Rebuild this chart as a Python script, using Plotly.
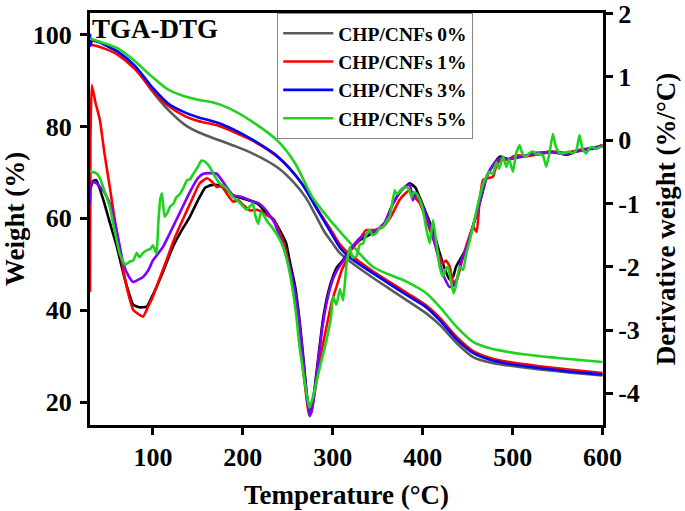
import plotly.graph_objects as go

# ---------------- TGA (left axis, weight %) ----------------
tga0_T = [30, 32, 41, 52, 61, 80, 98, 117, 136, 150, 172, 190, 210, 239, 258, 270, 280, 290, 300, 308, 320, 345, 382, 404, 419, 438, 456, 475, 493, 530, 565, 600]
tga0_w = [99.2, 98.9, 98.4, 97.2, 96.2, 93.1, 88.0, 83.6, 80.3, 78.8, 77.1, 75.8, 74.2, 71.0, 67.5, 64.5, 61.0, 57.3, 54.5, 52.4, 50.5, 47.0, 42.2, 39.3, 36.8, 32.8, 29.8, 28.6, 28.0, 27.1, 26.4, 25.8]

tga1_T = [30, 32, 41, 52, 61, 80, 98, 117, 136, 150, 172, 190, 210, 239, 265, 283, 300, 308, 320, 345, 382, 404, 419, 438, 456, 475, 493, 530, 565, 600]
tga1_w = [98.0, 97.8, 97.3, 96.5, 95.6, 92.5, 88.2, 84.5, 82.2, 81.2, 80.2, 78.8, 77.0, 73.3, 67.8, 62.0, 56.8, 54.3, 52.0, 48.4, 43.8, 41.0, 38.3, 34.1, 31.1, 29.6, 28.8, 27.8, 27.0, 26.3]

tga3_T = [30, 30.5, 32, 41, 52, 61, 80, 98, 117, 136, 150, 172, 190, 210, 239, 265, 283, 300, 308, 320, 345, 382, 404, 419, 438, 456, 475, 493, 530, 565, 600]
tga3_w = [100.2, 97.6, 98.6, 98.3, 97.2, 96.3, 93.2, 88.8, 85.0, 83.0, 82.0, 80.8, 79.3, 77.2, 73.4, 67.7, 61.8, 56.2, 53.6, 51.3, 48.0, 43.3, 40.6, 37.8, 33.6, 30.7, 29.2, 28.4, 27.4, 26.6, 26.0]

tga5_T = [30, 32, 41, 61, 80, 98.5, 117, 136, 150, 165, 183, 210, 239, 258, 277, 297, 308, 320, 345, 382, 404, 419, 438, 456, 475, 512, 550, 600]
tga5_w = [99.2, 99.0, 98.4, 97.0, 94.2, 90.9, 88.0, 86.5, 85.8, 85.3, 84.1, 81.1, 76.8, 72.0, 64.7, 59.6, 57.1, 54.5, 49.4, 46.2, 43.7, 40.7, 36.3, 33.1, 31.7, 30.4, 29.6, 28.7]

# ---------------- DTG (right axis, %/°C) ----------------
dtg0_T = [30, 33, 37, 45, 52, 60, 67, 73, 78, 85, 93, 98, 104, 112, 122, 131, 141, 150, 158, 165, 172, 180, 189, 200, 211, 218, 226, 234, 241, 248, 252, 258, 263, 267, 271, 274.4, 277, 280, 285, 289, 295, 300, 305, 311, 320, 330, 340, 349, 358, 367, 376, 385.6, 392, 398, 404, 412, 419, 425, 430, 434, 437, 443, 449, 455, 460, 466, 471, 478, 485.6, 495, 504, 515, 525, 541, 550, 560, 570, 580, 590, 600]
dtg0_d = [-0.8, -0.65, -0.63, -0.95, -1.3, -1.69, -2.1, -2.4, -2.6, -2.64, -2.63, -2.5, -2.32, -2.05, -1.69, -1.45, -1.21, -0.95, -0.75, -0.71, -0.71, -0.76, -0.87, -0.92, -0.97, -1.02, -1.16, -1.25, -1.42, -1.62, -1.9, -2.3, -2.84, -3.4, -4.0, -4.31, -4.2, -3.9, -3.3, -2.84, -2.4, -2.16, -2.0, -1.9, -1.72, -1.58, -1.5, -1.42, -1.3, -1.0, -0.8, -0.68, -0.75, -0.95, -1.16, -1.45, -1.79, -2.05, -2.2, -2.15, -2.0, -1.85, -1.69, -1.4, -1.16, -0.85, -0.58, -0.4, -0.26, -0.3, -0.26, -0.25, -0.22, -0.18, -0.2, -0.23, -0.18, -0.15, -0.13, -0.08]

dtg1_T = [30, 30.5, 32, 36, 41, 46, 52, 58, 67, 73, 78, 84, 89, 94, 100, 107, 115, 124, 133, 143, 152, 160, 166, 171, 176, 182, 189, 195, 200, 208, 216, 226, 234, 241, 248, 256, 262, 267, 271, 273.6, 276, 282, 288, 293, 299, 304, 310, 315, 319, 328, 337, 346, 356, 365, 374, 380, 385.6, 391, 397, 404, 410, 415, 420, 422, 426, 430, 434, 438, 442, 445, 450, 456, 460, 463, 467, 472, 478, 482, 486, 495, 504, 515, 530, 545, 560, 575, 590, 600]
dtg1_d = [-2.4, 0.0, 0.87, 0.6, 0.32, -0.2, -0.74, -1.3, -2.05, -2.45, -2.68, -2.75, -2.79, -2.65, -2.47, -2.2, -1.9, -1.55, -1.26, -0.95, -0.68, -0.6, -0.66, -0.74, -0.72, -0.84, -0.97, -0.95, -1.02, -1.11, -1.1, -1.18, -1.25, -1.47, -1.75, -2.32, -3.0, -3.63, -4.1, -4.34, -4.3, -3.8, -3.3, -2.95, -2.55, -2.32, -2.05, -1.9, -1.76, -1.6, -1.42, -1.42, -1.37, -1.2, -0.95, -0.85, -0.79, -0.9, -1.0, -1.26, -1.5, -1.69, -1.9, -1.95, -1.9, -2.0, -2.26, -2.2, -2.0, -1.84, -1.6, -1.37, -1.45, -1.0, -0.63, -0.6, -0.58, -0.4, -0.32, -0.3, -0.24, -0.25, -0.22, -0.18, -0.2, -0.15, -0.12, -0.08]

dtg3_T = [30, 32, 37, 45, 52, 60, 67, 73, 78, 84, 89, 95, 100, 111, 126, 141, 150, 156, 164, 171, 180, 189, 200, 208, 218, 226, 235, 245, 252, 258, 263, 267, 271, 274.4, 277, 280, 285, 289, 295, 300, 305, 311, 320, 330, 340, 349, 358, 367, 376, 385.6, 389, 392, 398, 404, 412, 419, 425, 430, 434, 438, 443, 449, 455, 460, 466, 471, 478, 486, 495, 504, 515, 525, 541, 550, 560, 570, 580, 590, 600]
dtg3_d = [-1.0, -0.66, -0.68, -0.8, -1.0, -1.45, -1.95, -2.15, -2.24, -2.2, -2.16, -2.05, -1.9, -1.69, -1.26, -0.82, -0.6, -0.53, -0.52, -0.53, -0.7, -0.87, -0.9, -0.95, -1.0, -1.11, -1.3, -1.69, -2.0, -2.4, -2.9, -3.45, -4.05, -4.36, -4.25, -3.95, -3.35, -2.9, -2.45, -2.2, -2.05, -1.92, -1.72, -1.55, -1.47, -1.42, -1.3, -1.0, -0.78, -0.7, -0.95, -0.85, -0.98, -1.2, -1.55, -1.95, -2.2, -2.32, -2.3, -2.2, -1.9, -1.69, -1.4, -1.16, -0.85, -0.58, -0.4, -0.28, -0.3, -0.28, -0.24, -0.2, -0.19, -0.2, -0.22, -0.18, -0.15, -0.12, -0.1]

dtg5_T = [30, 32, 37, 41, 46, 52, 57, 63, 69, 74, 78, 82, 85, 89, 93, 97, 100, 104, 106, 108, 110, 113, 116, 119, 123, 126, 130, 134, 138, 141, 145, 150, 154, 158, 163, 168, 174, 181, 189, 196, 204, 211, 214, 217, 220, 223, 226, 231, 237, 245, 250, 256, 260, 263, 266, 269, 272, 274, 276, 279, 282, 288, 293, 298, 300.4, 304, 308, 311.5, 315, 318.9, 322, 326.3, 330, 333.7, 337, 341.1, 344, 348.5, 352, 355.9, 359, 363.3, 366, 368.9, 371, 374.4, 378, 381.9, 385, 387.4, 390, 393, 397, 400.4, 404, 407.8, 411.5, 415, 418.9, 422.6, 425, 428.1, 431, 434.4, 437, 441.1, 445, 448.5, 452, 455.9, 460, 463.3, 467, 470.7, 474, 478.1, 482, 485, 489.3, 493, 496, 500.4, 504, 507.8, 511, 515.2, 519, 522.6, 526, 530, 534, 537.4, 541, 544.8, 548, 552.2, 558, 563, 567, 571, 574.4, 578, 581.9, 586, 589.3, 593, 596.7, 600]
dtg5_d = [-0.47, -0.5, -0.52, -0.6, -0.8, -1.05, -1.4, -1.79, -1.97, -1.92, -1.9, -1.78, -1.85, -1.78, -1.74, -1.72, -1.66, -1.79, -1.3, -0.95, -0.84, -1.21, -1.15, -1.05, -1.0, -0.9, -0.85, -0.75, -0.63, -0.62, -0.53, -0.42, -0.32, -0.34, -0.42, -0.55, -0.68, -0.75, -0.9, -0.98, -1.1, -1.0, -1.2, -1.32, -1.15, -1.18, -1.26, -1.35, -1.47, -1.69, -1.95, -2.42, -2.85, -3.26, -3.55, -3.84, -4.1, -4.23, -4.15, -4.0, -3.8, -3.45, -3.16, -2.8, -2.47, -2.6, -2.35, -2.53, -2.0, -1.69, -1.85, -1.84, -1.65, -1.63, -1.5, -1.42, -1.5, -1.47, -1.38, -1.37, -1.3, -1.21, -1.0, -0.79, -0.85, -0.82, -0.76, -0.74, -0.78, -0.9, -0.82, -0.84, -0.95, -1.11, -1.4, -1.63, -1.26, -1.6, -2.0, -2.16, -2.05, -2.0, -2.2, -2.42, -2.3, -2.0, -2.05, -1.79, -1.6, -1.37, -1.1, -0.9, -0.7, -0.58, -0.5, -0.53, -0.35, -0.45, -0.26, -0.42, -0.3, -0.5, -0.2, -0.08, -0.22, -0.26, -0.2, -0.18, -0.22, -0.21, -0.25, -0.42, -0.2, 0.1, -0.1, -0.21, -0.2, -0.18, -0.21, -0.15, 0.08, -0.15, -0.21, -0.12, -0.11, -0.14, -0.11, -0.1]

labels = ["CHP/CNFs 0%", "CHP/CNFs 1%", "CHP/CNFs 3%", "CHP/CNFs 5%"]
x_ticks = [100, 200, 300, 400, 500, 600]
y_ticks = [20, 40, 60, 80, 100]
y2_ticks = [-4, -3, -2, -1, 0, 1, 2]
y2_ticktext = ["-4", "-3", "-2", "-1", "0", "1", "2"]

tga_colors = ["#5a5a5a", "#ff0000", "#0000ff", "#1fd21f"]
dtg_colors = ["#000000", "#ff0000", "#7f00ff", "#1fd21f"]

FONT = "Liberation Serif, Times New Roman, serif"
LW = 2.6

fig = go.Figure()
tga = [(tga0_T, tga0_w), (tga1_T, tga1_w), (tga3_T, tga3_w), (tga5_T, tga5_w)]
for (T, w), c, lab in zip(tga, tga_colors, labels):
    fig.add_trace(go.Scatter(x=T, y=w, mode="lines", name=lab,
                             line=dict(color=c, width=LW, shape="spline", smoothing=0.8),
                             yaxis="y"))
dtg = [(dtg0_T, dtg0_d), (dtg1_T, dtg1_d), (dtg3_T, dtg3_d), (dtg5_T, dtg5_d)]
for (T, d), c, lab in zip(dtg, dtg_colors, labels):
    fig.add_trace(go.Scatter(x=T, y=d, mode="lines", name=lab + " DTG", showlegend=False,
                             line=dict(color=c, width=LW, shape="spline", smoothing=0.4),
                             yaxis="y2"))

axis_common = dict(showgrid=False, zeroline=False, showline=True, linecolor="black",
                   linewidth=3, ticks="outside", ticklen=7, tickwidth=2.5, tickcolor="black",
                   automargin=False,
                   tickfont=dict(family=FONT, size=26, color="black", weight="bold"))

fig.update_layout(
    width=685, height=511,
    margin=dict(l=90, r=82, t=13, b=86, autoexpand=False),
    paper_bgcolor="white", plot_bgcolor="white",
    font=dict(family=FONT, color="black"),
    xaxis=dict(range=[30, 600.5], tickvals=x_ticks, mirror=True,
               title=dict(text="Temperature (°C)", standoff=14,
                          font=dict(family=FONT, size=27, color="black", weight="bold")),
               **axis_common),
    yaxis=dict(range=[15, 104.7], tickvals=y_ticks, ticklabelstandoff=3,
               title=dict(text="Weight (%)", standoff=6,
                          font=dict(family=FONT, size=27, color="black", weight="bold")),
               **axis_common),
    yaxis2=dict(range=[-4.5, 2.01], tickvals=y2_ticks, ticktext=y2_ticktext,
                overlaying="y", side="right", ticklabeloverflow="allow",
                title=dict(text="Derivative weight (%/°C)", standoff=18,
                           font=dict(family=FONT, size=27, color="black", weight="bold")),
                **axis_common),
    legend=dict(x=0.365, y=1, xanchor="left", yanchor="top",
                bordercolor="#888888", borderwidth=1, bgcolor="white",
                font=dict(family=FONT, size=19.5, color="black", weight="bold"),
                itemwidth=50, tracegroupgap=0),
    showlegend=True,
    annotations=[dict(text="TGA-DTG", xref="paper", yref="paper", x=0.0, y=0.962,
                      xanchor="left", yanchor="middle", showarrow=False,
                      font=dict(family=FONT, size=27, color="black", weight="bold"))],
)

fig.write_html("out.html", config={"displayModeBar": False},
               post_script="document.body.style.margin='0';document.body.style.overflow='hidden';")
